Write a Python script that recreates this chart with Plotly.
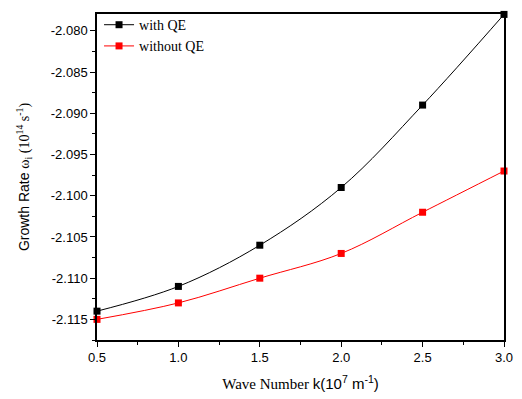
import plotly.graph_objects as go

k_values = [0.5, 1.0, 1.5, 2.0, 2.5, 3.0]
with_qe = [-2.114, -2.111, -2.106, -2.099, -2.089, -2.078]
without_qe = [-2.115, -2.113, -2.110, -2.107, -2.102, -2.097]

y_tick_values = [-2.115, -2.110, -2.105, -2.100, -2.095, -2.090, -2.085, -2.080]
y_tick_labels = ["-2.115", "-2.110", "-2.105", "-2.100", "-2.095", "-2.090", "-2.085", "-2.080"]
x_tick_values = [0.5, 1.0, 1.5, 2.0, 2.5, 3.0]
x_tick_labels = ["0.5", "1.0", "1.5", "2.0", "2.5", "3.0"]

fig = go.Figure()
fig.add_trace(go.Scatter(
    x=k_values, y=with_qe, name="with QE", mode="lines+markers",
    line=dict(color="black", width=1, shape="spline", smoothing=1.0),
    marker=dict(symbol="square", size=7, color="black"),
    cliponaxis=False,
))
fig.add_trace(go.Scatter(
    x=k_values, y=without_qe, name="without QE", mode="lines+markers",
    line=dict(color="red", width=1, shape="spline", smoothing=1.0),
    marker=dict(symbol="square", size=7, color="red"),
    cliponaxis=False,
))

axis_common = dict(
    showline=True, linecolor="black", linewidth=1.5, mirror=True,
    ticks="outside", ticklen=5, tickwidth=1, tickcolor="black",
    showgrid=False, zeroline=False,
    tickfont=dict(family="Liberation Sans, Arial", size=13, color="black"),
)

fig.update_xaxes(
    **axis_common,
    range=[0.5, 3.0], tickmode="array", tickvals=x_tick_values, ticktext=x_tick_labels,
    minor=dict(ticks="outside", ticklen=3, dtick=0.25, tick0=0.5, tickcolor="black"),
    title=dict(
        text='<span style="font-family:Liberation Serif">Wave Number </span>k(10<sup>7</sup> m<sup>-1</sup>)',
        font=dict(family="Liberation Sans, Arial", size=15, color="black"),
        standoff=14,
    ),
)
fig.update_yaxes(
    **axis_common,
    range=[-2.1175, -2.07795], tickmode="array", tickvals=y_tick_values, ticktext=y_tick_labels,
    minor=dict(ticks="outside", ticklen=3, dtick=0.0025, tick0=-2.115, tickcolor="black"),
    title=dict(
        text='Growth Rate <span style="font-family:Liberation Serif">ω<sub>i</sub> (10<sup>14</sup> s<sup>-1</sup>)</span>',
        font=dict(family="Liberation Sans, Arial", size=14, color="black"),
        standoff=18,
    ),
)

fig.update_layout(
    width=522, height=399,
    margin=dict(l=97, r=11, t=9, b=54),
    paper_bgcolor="white", plot_bgcolor="white",
    legend=dict(
        x=0.005, y=1.015, xanchor="left", yanchor="top",
        bgcolor="rgba(0,0,0,0)",
        font=dict(family="Liberation Serif, Times New Roman", size=14, color="black"),
        itemwidth=30, tracegroupgap=0,
    ),
)

fig.write_html("out.html")
